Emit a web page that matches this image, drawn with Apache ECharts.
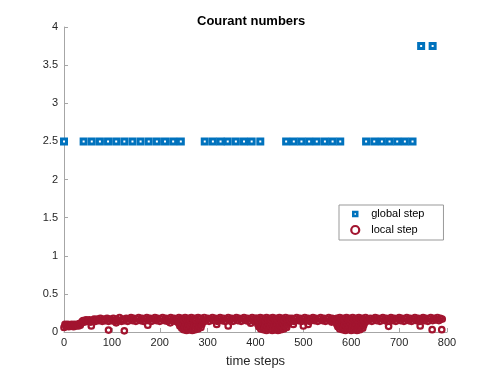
<!DOCTYPE html>
<html>
<head>
<meta charset="utf-8">
<script src="https://cdn.jsdelivr.net/npm/echarts@6/dist/echarts.min.js"></script>
<style>
  html, body { margin: 0; padding: 0; background: #fff; }
  #chart { width: 498px; height: 374px; }
</style>
</head>
<body>
<div id="chart"></div>
<script>
// courant number of the global step, [time step, value]
var globalStep = [
  [0, 2.5],
  [41, 2.5], [58, 2.5], [75, 2.5], [92, 2.5], [109, 2.5], [126, 2.5], [143, 2.5],
  [160, 2.5], [177, 2.5], [194, 2.5], [211, 2.5], [228, 2.5], [244, 2.5],
  [294, 2.5], [311, 2.5], [327, 2.5], [342, 2.5], [359, 2.5], [376, 2.5], [392, 2.5], [410, 2.5],
  [464, 2.5], [480, 2.5], [496, 2.5], [512, 2.5], [528, 2.5], [545, 2.5], [561, 2.5], [577, 2.5],
  [631, 2.5], [648, 2.5], [664, 2.5], [680, 2.5], [696, 2.5], [712, 2.5], [728, 2.5],
  [746, 3.75], [770, 3.75]
];

// courant number of the local steps, [time step, value]
var localStep = [
  // start
  [0, 0.06], [2, 0.1], [4, 0.08], [6, 0.09], [8, 0.1], [10, 0.07], [12, 0.09], [14, 0.08],
  [16, 0.1], [18, 0.09], [20, 0.07], [22, 0.1], [24, 0.08], [26, 0.09], [28, 0.1], [30, 0.08],
  [32, 0.11], [34, 0.09], [36, 0.12], [38, 0.14],
  // band
  [40, 0.15], [43, 0.13], [46, 0.16], [50, 0.14], [53, 0.16], [56, 0.13], [60, 0.15], [63, 0.17],
  [66, 0.14], [70, 0.17], [73, 0.15], [76, 0.18], [80, 0.14], [83, 0.17], [86, 0.15], [90, 0.18],
  [93, 0.14], [96, 0.17], [100, 0.15], [103, 0.18], [106, 0.14], [110, 0.17], [113, 0.15], [116, 0.19],
  [120, 0.14], [123, 0.17], [126, 0.15], [130, 0.18], [133, 0.14], [136, 0.17], [140, 0.19], [143, 0.15],
  [146, 0.18], [150, 0.14], [153, 0.17], [156, 0.19], [160, 0.15], [163, 0.18], [166, 0.14], [170, 0.17],
  [173, 0.19], [176, 0.15], [180, 0.18], [183, 0.14], [186, 0.17], [190, 0.19], [193, 0.15], [196, 0.18],
  [200, 0.14], [203, 0.17], [206, 0.19], [210, 0.15], [213, 0.18], [216, 0.14], [220, 0.17], [223, 0.19],
  [226, 0.15], [230, 0.18], [233, 0.14], [236, 0.17], [240, 0.19], [243, 0.15],
  // first dip
  [238, 0.13], [240, 0.11], [242, 0.08], [244, 0.12], [246, 0.05], [248, 0.09], [250, 0.03], [252, 0.07],
  [254, 0.11], [256, 0.02], [258, 0.06], [260, 0.1], [262, 0.03], [264, 0.08], [266, 0.12], [268, 0.02],
  [270, 0.05], [272, 0.09], [274, 0.03], [276, 0.07], [278, 0.11], [280, 0.04], [282, 0.08], [284, 0.12],
  [286, 0.06], [288, 0.1], [290, 0.13], [293, 0.14],
  [246, 0.18], [250, 0.16], [253, 0.19], [256, 0.17], [260, 0.18], [263, 0.16], [266, 0.19], [270, 0.17],
  [273, 0.18], [276, 0.16], [280, 0.19], [283, 0.17], [286, 0.18], [290, 0.16], [293, 0.19], [296, 0.15],
  [300, 0.18], [303, 0.14], [306, 0.17], [310, 0.19], [313, 0.15], [316, 0.18], [320, 0.14], [323, 0.17],
  [326, 0.19], [330, 0.15], [333, 0.18], [336, 0.14], [340, 0.17], [343, 0.19], [346, 0.15], [350, 0.18],
  [353, 0.14], [356, 0.17], [360, 0.19], [363, 0.15], [366, 0.18], [370, 0.14], [373, 0.17], [376, 0.19],
  [380, 0.15], [383, 0.18], [386, 0.14], [390, 0.17], [393, 0.19], [396, 0.15], [400, 0.18],
  // second dip
  [403, 0.13], [405, 0.1], [407, 0.07], [409, 0.11], [411, 0.04], [413, 0.08], [415, 0.12], [417, 0.03],
  [419, 0.06], [421, 0.1], [423, 0.02], [425, 0.07], [427, 0.11], [429, 0.04], [431, 0.08], [433, 0.12],
  [435, 0.02], [437, 0.06], [439, 0.1], [441, 0.03], [443, 0.07], [445, 0.11], [447, 0.02], [449, 0.05],
  [451, 0.09], [453, 0.03], [455, 0.07], [457, 0.11], [459, 0.04], [461, 0.08], [463, 0.12], [465, 0.06],
  [467, 0.1], [469, 0.13], [472, 0.14],
  [403, 0.18], [406, 0.16], [410, 0.19], [413, 0.17], [416, 0.18], [420, 0.16], [423, 0.19], [426, 0.17],
  [430, 0.18], [433, 0.16], [436, 0.19], [440, 0.17], [443, 0.18], [446, 0.16], [450, 0.19], [453, 0.17],
  [456, 0.18], [460, 0.16], [463, 0.19], [466, 0.17], [470, 0.18],
  [473, 0.15], [476, 0.18], [480, 0.14], [483, 0.17], [486, 0.19], [490, 0.15], [493, 0.18], [496, 0.14],
  [500, 0.17], [503, 0.19], [506, 0.15], [510, 0.18], [513, 0.14], [516, 0.17], [520, 0.19], [523, 0.15],
  [526, 0.18], [530, 0.14], [533, 0.17], [536, 0.19], [540, 0.15], [543, 0.18], [546, 0.14], [550, 0.17],
  [553, 0.19], [556, 0.15], [560, 0.18], [563, 0.14], [566, 0.17],
  // third dip
  [568, 0.13], [570, 0.1], [572, 0.07], [574, 0.11], [576, 0.04], [578, 0.08], [580, 0.12], [582, 0.03],
  [584, 0.06], [586, 0.1], [588, 0.02], [590, 0.07], [592, 0.11], [594, 0.04], [596, 0.08], [598, 0.12],
  [600, 0.02], [602, 0.06], [604, 0.1], [606, 0.03], [608, 0.07], [610, 0.11], [612, 0.02], [614, 0.05],
  [616, 0.09], [618, 0.03], [620, 0.07], [622, 0.11], [624, 0.05], [626, 0.09], [628, 0.12], [631, 0.14],
  [570, 0.18], [573, 0.16], [576, 0.19], [580, 0.17], [583, 0.18], [586, 0.16], [590, 0.19], [593, 0.17],
  [596, 0.18], [600, 0.16], [603, 0.19], [606, 0.17], [610, 0.18], [613, 0.16], [616, 0.19], [620, 0.17],
  [623, 0.18], [626, 0.16], [630, 0.19], [633, 0.17],
  [636, 0.15], [640, 0.18], [643, 0.14], [646, 0.17], [650, 0.19], [653, 0.15], [656, 0.18], [660, 0.14],
  [663, 0.17], [666, 0.19], [670, 0.15], [673, 0.18], [676, 0.14], [680, 0.17], [683, 0.19], [686, 0.15],
  [690, 0.18], [693, 0.14], [696, 0.17], [700, 0.19], [703, 0.15], [706, 0.18], [710, 0.14], [713, 0.17],
  [716, 0.19], [720, 0.15], [723, 0.18], [726, 0.14], [730, 0.17], [733, 0.19], [736, 0.15], [740, 0.18],
  [743, 0.14], [746, 0.17], [750, 0.19], [753, 0.15], [756, 0.18], [760, 0.14], [763, 0.17], [766, 0.19],
  [770, 0.15], [773, 0.18], [776, 0.16], [780, 0.19], [783, 0.15], [786, 0.18], [790, 0.17],
  // stray low values
  [57, 0.08], [93, 0.025], [109, 0.12], [126, 0.015], [175, 0.09], [222, 0.12], [319, 0.1], [343, 0.08],
  [390, 0.115], [479, 0.1], [500, 0.08], [510, 0.1], [559, 0.13], [678, 0.075], [744, 0.08],
  [769, 0.03], [789, 0.03]
];

var xTicks = { min: 0, max: 800, step: 100 };
var yTicks = { min: 0, max: 4, step: 0.5 };

var blue = '#0072BD';
var red = '#A2142F';
var font = 'Liberation Sans';

var myChart = echarts.init(document.getElementById('chart'));
myChart.setOption({
  animation: false,
  title: {
    text: 'Courant numbers',
    left: 192,
    top: 10,
    textStyle: { fontFamily: font, fontSize: 13, fontWeight: 'bold', color: '#000' }
  },
  grid: { left: 64, right: 51, top: 27, bottom: 42 },
  legend: {
    orient: 'vertical',
    left: 339,
    top: 205,
    padding: [3, 19, 4, 11],
    itemWidth: 8,
    itemHeight: 8,
    itemGap: 4,
    borderColor: '#999',
    borderWidth: 1,
    backgroundColor: '#fff',
    borderRadius: 0,
    textStyle: { fontFamily: font, fontSize: 11, lineHeight: 12, color: '#000', padding: [0, 0, 0, 7] },
    data: [
      {
        name: 'global step',
        // square drawn inside a 10x10 box so it stays small
        icon: 'path://M0,0M10,10M2.5,2.5h5v5h-5z',
        itemStyle: { color: '#fff', borderColor: blue, borderWidth: 2.5, opacity: 1 }
      },
      {
        name: 'local step',
        icon: 'circle',
        itemStyle: { color: '#fff', borderColor: red, borderWidth: 2.2, opacity: 1 }
      }
    ]
  },
  xAxis: {
    type: 'value',
    min: xTicks.min,
    max: xTicks.max,
    interval: xTicks.step,
    name: 'time steps',
    nameLocation: 'middle',
    nameGap: 23,
    nameTextStyle: { fontFamily: font, fontSize: 13, color: '#262626' },
    axisLine: { lineStyle: { color: '#a6a6a6', width: 1 } },
    axisTick: { inside: true, length: 4, lineStyle: { color: '#a6a6a6' } },
    axisLabel: { fontFamily: font, fontSize: 11, color: '#262626', margin: 5 },
    splitLine: { show: false }
  },
  yAxis: {
    type: 'value',
    min: yTicks.min,
    max: yTicks.max,
    interval: yTicks.step,
    axisLine: { show: true, lineStyle: { color: '#a6a6a6', width: 1 } },
    axisTick: { show: true, inside: true, length: 4, lineStyle: { color: '#a6a6a6' } },
    axisLabel: { fontFamily: font, fontSize: 11, color: '#262626', margin: 6 },
    splitLine: { show: false }
  },
  series: [
    {
      name: 'global step',
      type: 'scatter',
      symbol: 'rect',
      symbolSize: 5,
      clip: false,
      data: globalStep,
      itemStyle: { color: '#fff', borderColor: blue, borderWidth: 3, opacity: 1 }
    },
    {
      name: 'local step',
      type: 'scatter',
      symbol: 'circle',
      symbolSize: 5.5,
      clip: false,
      data: localStep,
      itemStyle: { color: 'rgba(0,0,0,0)', borderColor: red, borderWidth: 2.2, opacity: 1 }
    }
  ]
});
</script>
</body>
</html>
